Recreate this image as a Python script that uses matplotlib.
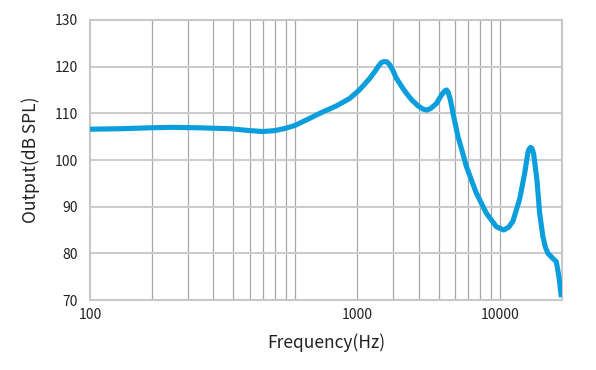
import matplotlib
matplotlib.use("Agg")
import matplotlib.pyplot as plt
from matplotlib.ticker import FixedLocator, NullFormatter

# Data (frequency in Hz, output in dB SPL)
freq_hz = [100, 140, 196, 250, 343, 481, 602, 696, 796, 900, 997, 1150, 1319, 1591,
           1847, 2066, 2312, 2450, 2537, 2635, 2714, 2807, 2893, 3002, 3119, 3300,
           3487, 3700, 3972, 4200, 4395, 4600, 4885, 5166, 5360, 5470, 5564, 5715,
           5884, 6223, 6500, 6839, 7648, 8554, 9572, 10390, 11000, 11530, 12430,
           13150, 13640, 13800, 14060, 14270, 14540, 15100, 15560, 16140, 16600,
           17080, 18060, 18770, 19320, 19850]
output_db = [106.6, 106.7, 106.9, 107.0, 106.9, 106.7, 106.3, 106.1, 106.3, 106.8,
             107.4, 108.7, 110.0, 111.6, 113.2, 115.1, 117.5, 119.0, 120.0, 120.9,
             121.1, 121.0, 120.4, 119.1, 117.5, 115.8, 114.3, 112.9, 111.6, 110.9,
             110.7, 111.1, 112.1, 113.9, 114.8, 115.0, 114.6, 112.9, 110.0, 105.0,
             102.1, 98.6, 92.9, 88.6, 85.7, 85.0, 85.6, 86.9, 91.6, 97.1, 101.6,
             102.3, 102.7, 102.5, 101.4, 95.7, 88.6, 83.6, 81.3, 80.0, 78.9, 78.2,
             75.0, 70.6]

x_tick_pos = [100, 2000, 10000]
x_tick_labels = ["100", "1000", "10000"]
y_ticks = [70, 80, 90, 100, 110, 120, 130]
grid_freqs = [200, 300, 400, 500, 600, 700, 800, 900, 1000,
              2000, 3000, 4000, 5000, 6000, 7000, 8000, 9000, 10000]

font = ["Noto Sans CJK JP", "DejaVu Sans"]
plt.rcParams["font.family"] = font

fig = plt.figure(figsize=(5.96, 3.70), dpi=100)
ax = fig.add_axes([90/596, 1-300/370, (562-90)/596, (300-20)/370])

ax.set_xscale("log")
ax.set_xlim(100, 20000)
ax.set_ylim(70, 130)

# grid
for g in grid_freqs:
    ax.axvline(g, color="#a8a8a8", lw=0.9, zorder=1)
for yv in y_ticks[1:-1]:
    ax.axhline(yv, color="#cccccc", lw=1.5, zorder=1)

ax.plot(freq_hz, output_db, color="#0a9fdc", lw=3.7, solid_capstyle="butt",
        solid_joinstyle="round", zorder=3)

ax.xaxis.set_major_locator(FixedLocator(x_tick_pos))
ax.set_xticklabels(x_tick_labels)
ax.xaxis.set_minor_formatter(NullFormatter())
ax.xaxis.set_minor_locator(FixedLocator([]))
ax.set_yticks(y_ticks)
ax.tick_params(axis="both", length=0, labelsize=10, colors="#222222")
ax.tick_params(axis="y", pad=9)
ax.tick_params(axis="x", pad=6)

for s in ax.spines.values():
    s.set_color("#c8c8c8")
    s.set_linewidth(1.5)

ax.set_xlabel("Frequency(Hz)", fontsize=12.5, labelpad=8, color="#222222")
ax.set_ylabel("Output(dB SPL)", fontsize=12.5, labelpad=10, color="#222222")

fig.savefig("out.png", dpi=100)
